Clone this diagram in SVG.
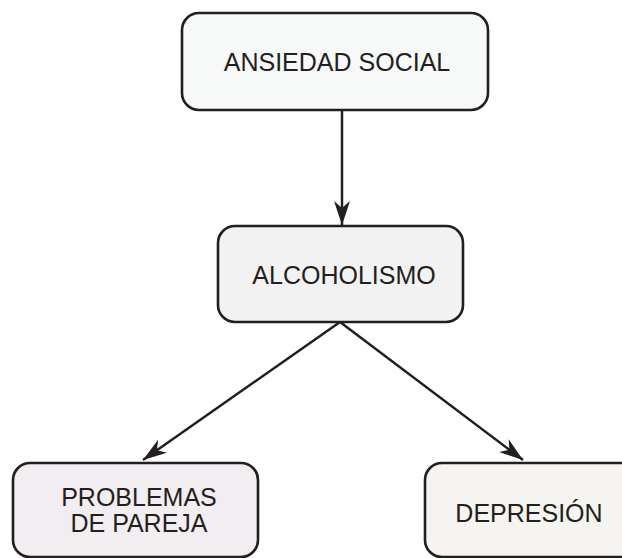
<svg xmlns="http://www.w3.org/2000/svg" width="622" height="558" viewBox="0 0 622 558">
  <defs>
    <style>
      .box { stroke: #231f20; stroke-width: 2.6; }
      .lbl { font-family: "Liberation Sans", Arial, sans-serif; font-size: 25px; fill: #231f20; text-anchor: middle; }
      .edge { stroke: #231f20; stroke-width: 2.5; fill: none; marker-end: url(#arrow); }
    </style>
    <marker id="arrow" viewBox="0 0 24 16" refX="24" refY="8" markerWidth="24" markerHeight="16" markerUnits="userSpaceOnUse" orient="auto">
      <path d="M0,0 L24,8 L0,16 L7,8 z" fill="#231f20"/>
    </marker>
  </defs>
  <rect width="622" height="558" fill="#ffffff"/>
  <g id="connectors">
    <line class="edge" x1="342" y1="110" x2="342" y2="225"/>
    <line class="edge" x1="340" y1="322" x2="143" y2="460"/>
    <line class="edge" x1="340" y1="322" x2="523" y2="460"/>
  </g>
  <g id="node-ansiedad">
    <rect class="box" x="182" y="13" width="306" height="97" rx="17" fill="#f7f8f8"/>
    <text class="lbl" x="337" y="71">ANSIEDAD SOCIAL</text>
  </g>
  <g id="node-alcoholismo">
    <rect class="box" x="218" y="226" width="245" height="96" rx="17" fill="#f2f2f2"/>
    <text class="lbl" x="344" y="284">ALCOHOLISMO</text>
  </g>
  <g id="node-problemas">
    <rect class="box" x="13" y="463" width="245" height="94" rx="17" fill="#f1edf1"/>
    <text class="lbl" x="139" y="506">PROBLEMAS</text>
    <text class="lbl" x="139" y="532">DE PAREJA</text>
  </g>
  <g id="node-depresion">
    <rect class="box" x="425" y="463" width="245" height="94" rx="17" fill="#f5f4f0"/>
    <text class="lbl" x="529" y="522">DEPRESIÓN</text>
  </g>
</svg>
